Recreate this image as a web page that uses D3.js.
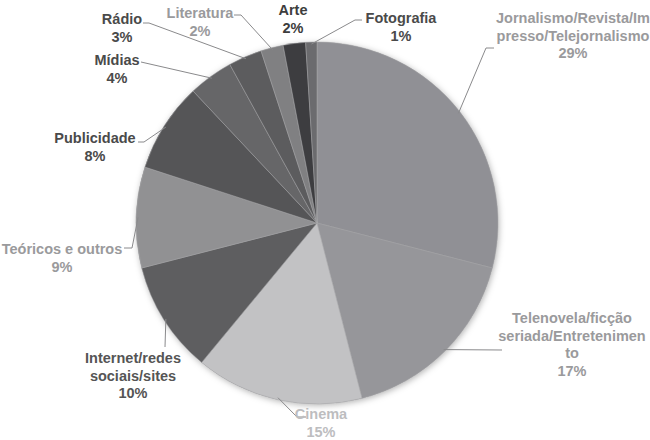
<!DOCTYPE html>
<html>
<head>
<meta charset="utf-8">
<script src="https://cdn.jsdelivr.net/npm/d3@7"></script>
<style>
  body { margin: 0; background: #fff; }
  text { font-family: "Liberation Sans", Arial, sans-serif; font-weight: bold; font-size: 14.5px; }
</style>
</head>
<body>
<div id="chart"></div>
<script>

// data, clockwise from 12 o'clock
var categories = ["Jornalismo/Revista/Impresso/Telejornalismo", "Telenovela/ficção seriada/Entretenimento",
    "Cinema", "Internet/redes sociais/sites", "Teóricos e outros", "Publicidade", "Mídias",
    "Rádio", "Literatura", "Arte", "Fotografia"];
var values = [29, 17, 15, 10, 9, 8, 4, 3, 2, 2, 1];
// label lines as they wrap in the picture
var labelLines = [
    ["Jornalismo/Revista/Im", "presso/Telejornalismo"],
    ["Telenovela/ficção", "seriada/Entretenimen", "to"],
    ["Cinema"],
    ["Internet/redes", "sociais/sites"],
    ["Teóricos e outros"],
    ["Publicidade"],
    ["Mídias"],
    ["Rádio"],
    ["Literatura"],
    ["Arte"],
    ["Fotografia"]
];

var sliceColors = ["#909095", "#96969a", "#c2c2c4", "#5e5e60", "#919193", "#555557",
    "#666668", "#5c5c5e", "#808082", "#3d3d40", "#6b6b6e"];
var labelColors = ["#9a9a9c", "#9a9a9c", "#bdbdbf", "#555", "#9a9a9c", "#4a4a4a",
    "#4a4a4a", "#4a4a4a", "#9a9a9c", "#3d3d3d", "#4a4a4a"];

// label placement: text anchor point (first line) and leader path bends
var labelLayout = [
    { x: 573, y: 23, bend: [[494, 48], [486, 48]] },
    { x: 572, y: 323, bend: [[502, 350]] },
    { x: 321, y: 419, bend: [[306, 417], [297, 417]] },
    { x: 133, y: 363, bend: [[165, 347]] },
    { x: 62, y: 254, bend: [[124, 248], [132, 248]] },
    { x: 95, y: 143, bend: [[138, 142], [144, 142]] },
    { x: 117, y: 65, bend: [[141, 62]] },
    { x: 122, y: 24, bend: [[143, 23], [149, 23]] },
    { x: 200, y: 18, bend: [[234, 15], [241, 15]] },
    { x: 293, y: 15, bend: null },
    { x: 401, y: 23, bend: [[362, 20], [355, 20]] }
];

var width = 650, height = 440;
var cx = 317, cy = 223, radius = 181;

var svg = d3.select("#chart").append("svg")
    .attr("width", width)
    .attr("height", height);

var defs = svg.append("defs");
var filter = defs.append("filter").attr("id", "shadow")
    .attr("x", "-10%").attr("y", "-10%").attr("width", "120%").attr("height", "120%");
filter.append("feDropShadow")
    .attr("dx", 1).attr("dy", 1.5)
    .attr("stdDeviation", 3)
    .attr("flood-color", "#000")
    .attr("flood-opacity", 0.3);

var pie = d3.pie().sort(null).value(function (d) { return d; });
var arcs = pie(values);

var arc = d3.arc().innerRadius(0).outerRadius(radius);
var edgeArc = d3.arc().innerRadius(radius - 2).outerRadius(radius - 2);

var g = svg.append("g").attr("transform", "translate(" + cx + "," + cy + ")");

// shadow disc under the slices
g.append("circle")
    .attr("r", radius)
    .attr("fill", "#909095")
    .attr("filter", "url(#shadow)");

g.selectAll("path.slice")
    .data(arcs)
    .join("path")
    .attr("class", "slice")
    .attr("d", arc)
    .attr("fill", function (d, i) { return sliceColors[i]; })
    .attr("stroke", "#a9a9ab")
    .attr("stroke-width", 0.5);

// leader lines
var line = d3.line();
svg.selectAll("path.leader")
    .data(arcs)
    .join("path")
    .attr("class", "leader")
    .attr("fill", "none")
    .attr("stroke", "#8a8a8c")
    .attr("stroke-width", 1)
    .attr("d", function (d, i) {
        var lay = labelLayout[i];
        if (!lay.bend) return null;
        var c = edgeArc.centroid(d);
        var pts = lay.bend.slice();
        pts.push([cx + c[0], cy + c[1]]);
        return line(pts);
    });

// labels
var lineH = 17.5;
var labels = svg.selectAll("text.label")
    .data(arcs)
    .join("text")
    .attr("class", "label")
    .attr("text-anchor", "middle")
    .attr("fill", function (d, i) { return labelColors[i]; })
    .attr("x", function (d, i) { return labelLayout[i].x; })
    .attr("y", function (d, i) { return labelLayout[i].y; });

labels.each(function (d, i) {
    var t = d3.select(this);
    var rows = labelLines[i].concat([d.data + "%"]);
    rows.forEach(function (r, k) {
        t.append("tspan")
            .attr("x", labelLayout[i].x)
            .attr("dy", k === 0 ? 0 : lineH)
            .text(r);
    });
});

</script>
</body>
</html>
